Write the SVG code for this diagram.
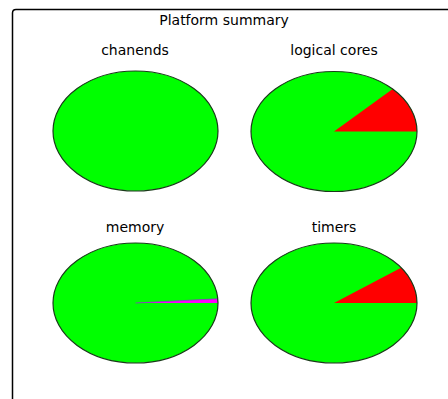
<svg xmlns="http://www.w3.org/2000/svg" width="448" height="399" viewBox="0 0 448 399">
<style>
.t{font-family:"DejaVu Sans",sans-serif;font-size:14px;fill:#000;text-anchor:middle}
.e{stroke:#1a3a1a;stroke-width:1.2}
.g{fill:#00ff00}
.r{fill:#ff0000}
.m{fill:#ff00ff}
</style>
<rect width="448" height="399" fill="#fff"/>
<path d="M12.5,399 V13 Q12.5,9.5 16,9.5 H448" fill="none" stroke="#000" stroke-width="1.5"/>
<text class="t" x="224" y="25">Platform summary</text>
<g id="chanends">
<text class="t" x="135" y="55">chanends</text>
<ellipse class="g e" cx="135.5" cy="131" rx="82.5" ry="60"/>
</g>
<g id="logical-cores">
<text class="t" x="334" y="55">logical cores</text>
<ellipse class="g" cx="334" cy="131.5" rx="83" ry="60"/>
<path class="r" d="M334,131.5 L417,131.5 A83,60 0 0 0 392.7,89.1 Z"/>
<ellipse fill="none" class="e" cx="334" cy="131.5" rx="83" ry="60"/>
</g>
<g id="memory">
<text class="t" x="135" y="232">memory</text>
<ellipse class="g" cx="135.5" cy="303" rx="82.5" ry="60"/>
<path class="m" d="M135.5,303 L218,303 A82.5,60 0 0 0 217.8,298.8 Z"/>
<path d="M135.5,303 L217.8,298.8" stroke="#8040c0" stroke-width="0.8" fill="none"/>
<ellipse fill="none" class="e" cx="135.5" cy="303" rx="82.5" ry="60"/>
</g>
<g id="timers">
<text class="t" x="334" y="232">timers</text>
<ellipse class="g" cx="334" cy="303" rx="83" ry="60"/>
<path class="r" d="M334,303 L417,303 A83,60 0 0 0 401.1,267.7 Z"/>
<ellipse fill="none" class="e" cx="334" cy="303" rx="83" ry="60"/>
</g>
</svg>
